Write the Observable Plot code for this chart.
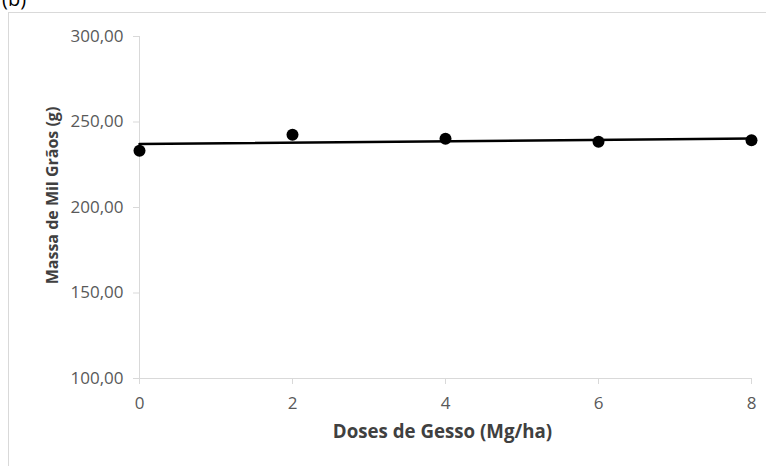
<!DOCTYPE html>
<html>
<head>
<meta charset="utf-8">
<script src="https://cdn.jsdelivr.net/npm/d3@7"></script>
<script src="https://cdn.jsdelivr.net/npm/@observablehq/plot@0.6"></script>
<style>
  html, body { margin: 0; padding: 0; background: #fff; overflow: hidden; }
  #wrap { position: relative; width: 766px; height: 466px; overflow: hidden; font-family: "Open Sans", sans-serif; }
  #frame { position: absolute; left: 8px; top: 12px; width: 800px; height: 500px; border: 1px solid #d9d9d9; box-sizing: border-box; }
  #tag { position: absolute; left: 2px; top: -15px; font-size: 20px; color: #000; }
  #chart { position: absolute; left: 0; top: 0; }
</style>
</head>
<body>
<div id="wrap">
  <div id="frame"></div>
  <div id="tag">(b)</div>
  <div id="chart"></div>
</div>
<script>
const doses = [0, 2, 4, 6, 8];
const massa = [233.2, 242.6, 240.2, 238.5, 239.3];
const yTicks = [100, 150, 200, 250, 300];
const xTicks = [0, 2, 4, 6, 8];
const xTitle = "Doses de Gesso (Mg/ha)";
const yTitle = "Massa de Mil Grãos (g)";

const data = doses.map((d, i) => ({x: d, y: massa[i]}));
const fmt = d => d.toFixed(2).replace(".", ",");

const chart = Plot.plot({
  width: 766,
  height: 466,
  marginLeft: 139,
  marginRight: 15,
  marginTop: 36,
  marginBottom: 88,
  style: {fontFamily: "'Open Sans', sans-serif", fontSize: "17px", background: "transparent", overflow: "visible"},
  x: {domain: [0, 8]},
  y: {domain: [100, 300]},
  marks: [
    Plot.ruleX([0], {stroke: "#d9d9d9", y1: 100, y2: 300}),
    Plot.ruleY([100], {stroke: "#d9d9d9"}),
    Plot.axisY({ticks: yTicks, tickFormat: fmt, tickSize: 6, tickPadding: 10, stroke: "#d9d9d9", fill: "#595959", label: null, fontSize: 17}),
    Plot.axisX({ticks: xTicks, tickSize: 6, tickPadding: 12, stroke: "#d9d9d9", fill: "#595959", label: null, fontSize: 17}),
    Plot.linearRegressionY(data, {x: "x", y: "y", ci: 0, stroke: "#000", strokeWidth: 2.5}),
    Plot.dot(data, {x: "x", y: "y", r: 6, fill: "#000"}),
    Plot.text([yTitle], {frameAnchor: "left", textAnchor: "middle", dx: -87, dy: -12, rotate: -90, fontWeight: "bold", fill: "#404040", fontSize: 16}),
    Plot.text([xTitle], {frameAnchor: "bottom", dx: -3, dy: 59, fontWeight: "bold", fill: "#404040", fontSize: 18.7})
  ]
});
document.getElementById("chart").appendChild(chart);
</script>
</body>
</html>
